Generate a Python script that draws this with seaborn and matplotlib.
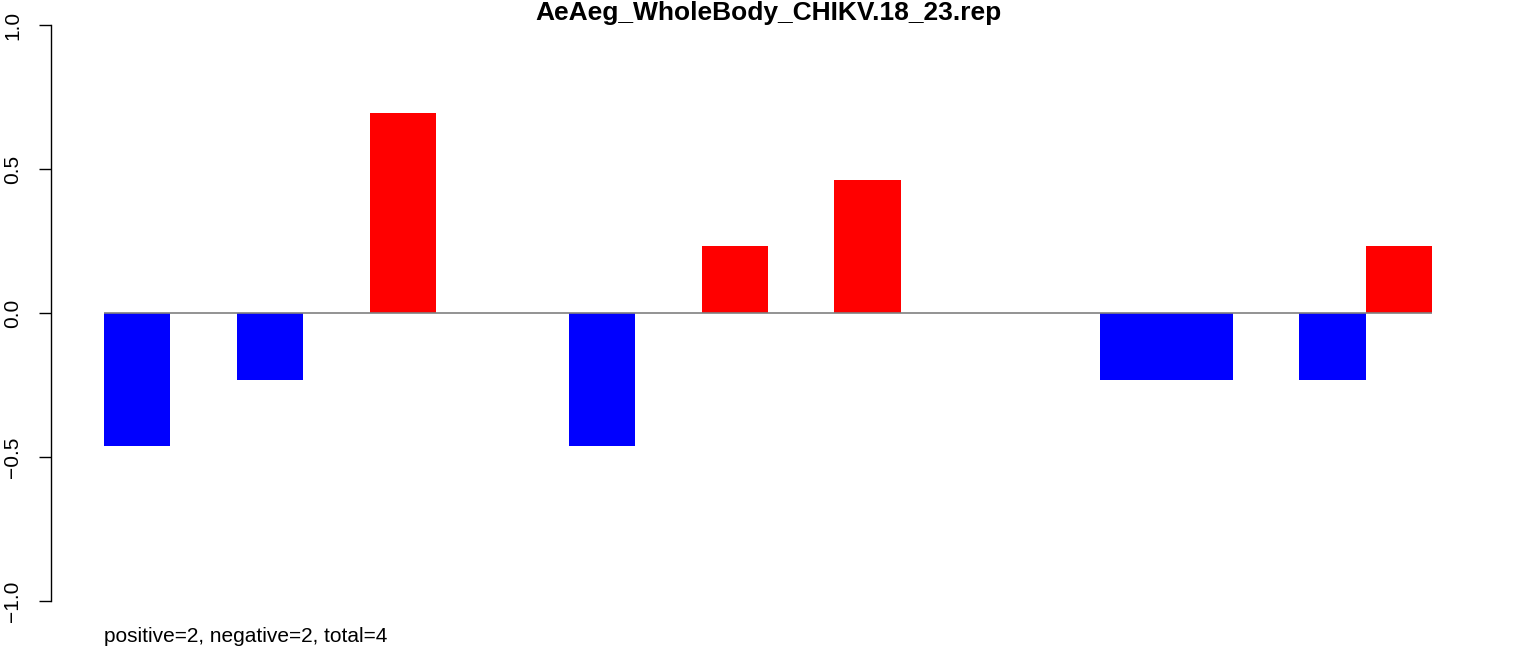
import matplotlib
matplotlib.use("Agg")
import matplotlib.pyplot as plt
import pandas as pd
import seaborn as sns

# one bar per position, zero means nothing drawn
positions = [str(i + 1) for i in range(20)]
values = [-0.462, 0, -0.231, 0, 0.693, 0, 0, -0.462, 0, 0.231,
          0, 0.462, 0, 0, 0, -0.231, -0.231, 0, -0.231, 0.231]
y_ticks = [-1.0, -0.5, 0.0, 0.5, 1.0]
y_tick_labels = ["\u22121.0", "\u22120.5", "0.0", "0.5", "1.0"]
title = "AeAeg_WholeBody_CHIKV.18_23.rep"
# counts as printed under the chart
n_positive = 2
n_negative = 2
n_total = 4

df = pd.DataFrame({"position": positions, "value": values})
df["sign"] = ["pos" if v > 0 else "neg" for v in df["value"]]
note = f"positive={n_positive}, negative={n_negative}, total={n_total}"

sns.set_style("white")
plt.rcParams["font.family"] = ["Liberation Sans", "DejaVu Sans"]
plt.rcParams["text.color"] = "black"
plt.rcParams["ytick.color"] = "black"

fig = plt.figure(figsize=(15.36, 6.56), dpi=100)
ax = fig.add_axes([50.9 / 1536, 31.96 / 656, 1434.2 / 1536, 622.08 / 656])

sns.barplot(data=df, x="position", y="value", hue="sign", order=positions,
            palette={"pos": "#FF0000", "neg": "#0000FF"}, dodge=False,
            saturation=1, width=1.0, linewidth=0, legend=False, ax=ax)

# zero line across the bar range
ax.hlines(0, -0.5, len(positions) - 0.5, color="#808080", linewidth=1.2, zorder=3)

ax.set_xlim(-1.3, 20.3)
ax.set_ylim(-1.08, 1.08)
ax.set_yticks(y_ticks)
ax.set_yticklabels(y_tick_labels, rotation=90, va="center", fontsize=15)
ax.tick_params(axis="y", length=8.6, width=1, pad=12, left=True,
               color="black", labelcolor="black")
ax.set_xticks([])
ax.set_xlabel("")
ax.set_ylabel("")

for side in ["top", "right", "bottom"]:
    ax.spines[side].set_visible(False)
ax.spines["left"].set_bounds(-1, 1)
ax.spines["left"].set_color("black")
ax.spines["left"].set_linewidth(1)

fig.text(768 / 1536, 1 - 13 / 656, title, ha="center", va="center",
         fontsize=19, fontweight="bold", color="black")
fig.text(104 / 1536, 1 - 637 / 656, note, ha="left", va="center",
         fontsize=15, color="black")

fig.savefig("out.png", dpi=100)
plt.close(fig)
